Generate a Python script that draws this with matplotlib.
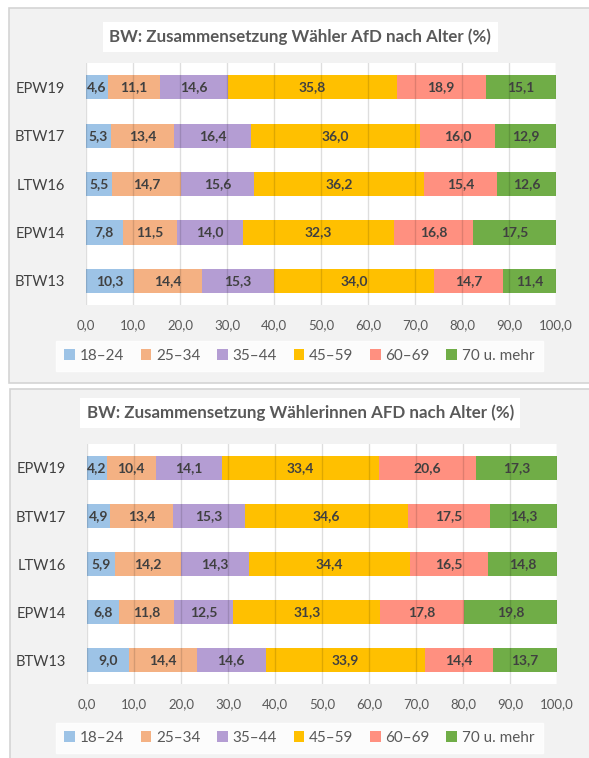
import matplotlib
matplotlib.use('Agg')
import matplotlib.pyplot as plt
from matplotlib.patches import Rectangle

plt.rcParams['font.family'] = ['Lato', 'DejaVu Sans']

# data
wahlen = ["BTW13", "EPW14", "LTW16", "BTW17", "EPW19"]
gruppen = ["18–24", "25–34", "35–44", "45–59", "60–69", "70 u. mehr"]
farben = ["#9dc3e6", "#f4b183", "#b49dd3", "#ffc000", "#ff9080", "#70ad47"]

# Waehler (Maenner), rows in order of wahlen
waehler = [
    [10.3, 14.4, 15.3, 34.0, 14.7, 11.4],
    [7.8, 11.5, 14.0, 32.3, 16.8, 17.5],
    [5.5, 14.7, 15.6, 36.2, 15.4, 12.6],
    [5.3, 13.4, 16.4, 36.0, 16.0, 12.9],
    [4.6, 11.1, 14.6, 35.8, 18.9, 15.1],
]
# Waehlerinnen
waehlerinnen = [
    [9.0, 14.4, 14.6, 33.9, 14.4, 13.7],
    [6.8, 11.8, 12.5, 31.3, 17.8, 19.8],
    [5.9, 14.2, 14.3, 34.4, 16.5, 14.8],
    [4.9, 13.4, 15.3, 34.6, 17.5, 14.3],
    [4.2, 10.4, 14.1, 33.4, 20.6, 17.3],
]
titel1 = "BW: Zusammensetzung Wähler AfD nach Alter (%)"
titel2 = "BW: Zusammensetzung Wählerinnen AFD nach Alter (%)"
xticks = list(range(0, 101, 10))

W, H = 589, 758
fig = plt.figure(figsize=(W / 100, H / 100), dpi=100)
fig.patch.set_facecolor("white")


def px_rect(x0, y0, x1, y1, **kw):
    r = Rectangle((x0 / W, 1 - y1 / H), (x1 - x0) / W, (y1 - y0) / H,
                  transform=fig.transFigure, **kw)
    fig.add_artist(r)


def panel(daten, titel, box, ax_box, leg_y, title_y):
    px_rect(*box, facecolor="#f2f2f2", edgecolor="#d4d4d4", lw=1.2, zorder=0)
    l, t, r, b = ax_box
    ax = fig.add_axes([l / W, 1 - b / H, (r - l) / W, (b - t) / H])
    ax.set_facecolor("white")
    left = [0.0] * len(wahlen)
    for j, g in enumerate(gruppen):
        werte = [row[j] for row in daten]
        bars = ax.barh(wahlen, werte, left=left, height=0.5, color=farben[j],
                       label=g, zorder=1)
        ax.bar_label(bars, labels=[f"{v:.1f}".replace(".", ",") for v in werte],
                     label_type="center", fontsize=10, fontweight="bold",
                     color="#404040")
        left = [a + v for a, v in zip(left, werte)]
    ax.set_xlim(0, 100)
    ax.set_ylim(-0.5, 4.5)
    ax.set_xticks(xticks)
    ax.set_xticklabels([f"{x},0" for x in xticks])
    ax.grid(axis="x", color="black", alpha=0.13, lw=1)
    ax.set_axisbelow(False)
    for s in ax.spines.values():
        s.set_visible(False)
    ax.tick_params(axis="x", length=0, pad=10, labelsize=9.5, labelcolor="#595959")
    ax.tick_params(axis="y", length=0, pad=15, labelsize=10.5, labelcolor="#404040")
    fig.text(0.51, 1 - title_y / H, titel, ha="center", va="center",
             fontsize=12.2, fontweight="bold", color="#595959",
             bbox=dict(facecolor="white", edgecolor="none", pad=4.5))
    leg = ax.legend(loc="center", bbox_to_anchor=(0.508, 1 - leg_y / H),
                    bbox_transform=fig.transFigure, ncol=6, frameon=True,
                    fancybox=False, edgecolor="white", fontsize=11,
                    handlelength=0.7, handleheight=0.7, handletextpad=0.3,
                    columnspacing=1.1, borderpad=0.55)
    for txt in leg.get_texts():
        txt.set_color("#595959")
    return ax


panel(waehler, titel1, (9, 8, 600, 383), (86, 63, 556, 305), 356, 37)
panel(waehlerinnen, titel2, (10, 389, 600, 770), (87, 444, 557, 684), 738, 413)

fig.savefig("out.png", dpi=100)
